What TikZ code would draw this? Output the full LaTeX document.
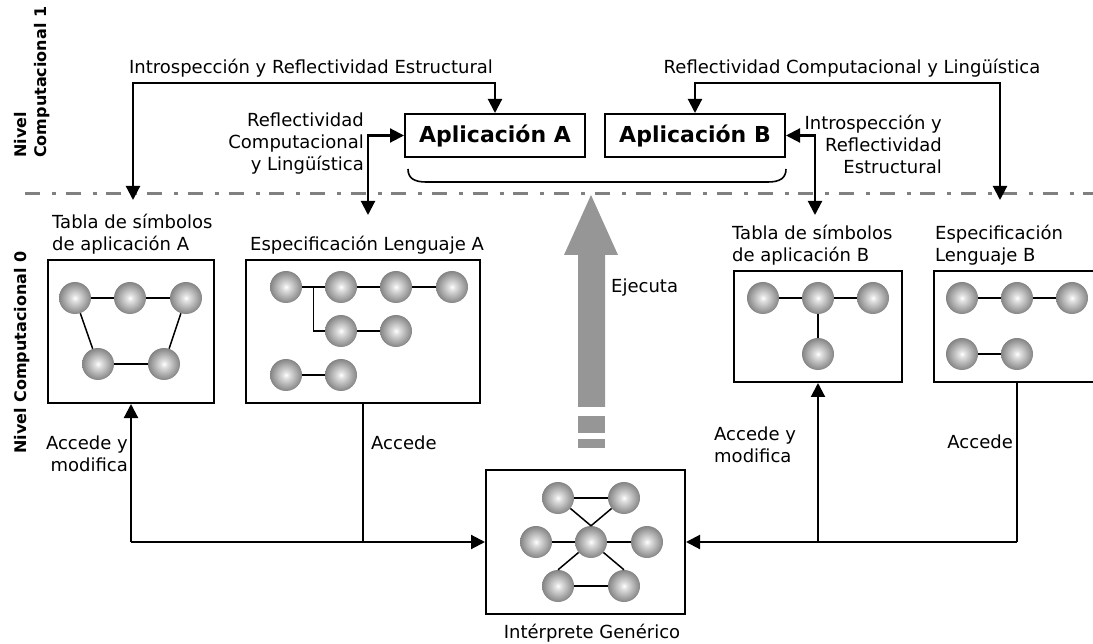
\documentclass[tikz,border=0pt]{standalone}
\usepackage{fontspec}
\setmainfont{DejaVu Sans}
\usetikzlibrary{arrows.meta,calc}
\pgfdeclareradialshading{sphereshade}{\pgfpoint{0bp}{0bp}}{color(0bp)=(white); color(5bp)=(black!12); color(26bp)=(black!50); color(50bp)=(black!72)}
\tikzset{
  boxnode/.style={draw, line width=2pt, inner sep=0pt},
  sph/.style={circle, minimum size=32pt, inner sep=0pt, shading=sphereshade},
  ln/.style={line width=1.5pt},
  con/.style={line width=2.1pt},
  arr/.style={con, -{Triangle[length=14pt,width=14pt]}},
  darr/.style={con, {Triangle[length=14pt,width=14pt]}-{Triangle[length=14pt,width=14pt]}},
  lbl/.style={inner sep=0pt},
  rot/.style={inner sep=0pt, rotate=90, anchor=base west, font=\fontsize{16}{19}\selectfont\bfseries},
}
\begin{document}
\begin{tikzpicture}[x=1pt,y=-1pt,font=\fontsize{18}{22}\selectfont]
\useasboundingbox (0,0) rectangle (1093,644);
\fill[white] (0,0) rectangle (1093,644);

% level labels
\node[rot] (nv1) at (26,158) {Nivel};
\node[rot] (cp1) at (46,158) {Computacional 1};
\node[rot] (nv0) at (26,454) {Nivel Computacional 0};

% dash-dot separator
\draw[black!50, line width=3.8pt, dash pattern=on 15pt off 12pt on 4pt off 9.7pt] (25,193.5) -- (1100,193.5);

% application boxes
\node[boxnode, minimum width=180pt, minimum height=43pt, font=\fontsize{22}{26}\selectfont\bfseries] (appA) at (495,135.5) {Aplicación A};
\node[boxnode, minimum width=180pt, minimum height=43pt, font=\fontsize{22}{26}\selectfont\bfseries] (appB) at (695,135.5) {Aplicación B};

% brace
\draw[line width=1.6pt] (408,169) .. controls (408,178) and (414,182) .. (426,182) -- (768,182) .. controls (780,182) and (786,178) .. (786,169);

% big grey arrow
\fill[black!41] (578,407) -- (578,255) -- (564,255) -- (591,195) -- (618,255) -- (605,255) -- (605,407) -- cycle;
\fill[black!41] (578,416) rectangle (605,433);
\fill[black!41] (578,439) rectangle (605,448);
\node[lbl, anchor=west] (ej) at (611,288) {Ejecuta};

% level 0 boxes
\node[boxnode, minimum width=166pt, minimum height=143pt] (TA) at (131,331.5) {};
\node[boxnode, minimum width=234pt, minimum height=143pt] (SA) at (363,331.5) {};
\node[boxnode, minimum width=168pt, minimum height=111pt] (TB) at (818,326.5) {};
\node[boxnode, minimum width=166pt, minimum height=111pt] (SB) at (1017,326.5) {};
\node[boxnode, minimum width=199pt, minimum height=144pt] (IG) at (585.5,542) {};

% labels of boxes
\node[lbl, anchor=west, align=left] (tTA) at (52,234) {Tabla de símbolos\\de aplicación A};
\node[lbl, anchor=west] (tSA) at (250,245) {Especificación Lenguaje A};
\node[lbl, anchor=west, align=left] (tTB) at (732,245) {Tabla de símbolos\\de aplicación B};
\node[lbl, anchor=west, align=left] (tSB) at (935,245) {Especificación\\Lenguaje B};
\node[lbl] (tIG) at (592,633) {Intérprete Genérico};

% top labels
\node[lbl] (l1) at (311,68) {Introspección y Reflectividad Estructural};
\node[lbl, anchor=east, align=right] (l2) at (364,144) {Reflectividad\\Computacional\\y Lingüística};
\node[lbl] (l3) at (852,68) {Reflectividad Computacional y Lingüística};
\node[lbl, anchor=east, align=right] (l4) at (942,144) {Introspección y\\Reflectividad\\Estructural};

% bottom labels
\node[lbl, anchor=east, align=right] (b1l) at (128,454) {Accede y\\modifica};
\node[lbl, anchor=west] (b2l) at (371,443) {Accede};
\node[lbl, anchor=west, align=left] (b3l) at (714,445) {Accede y\\modifica};
\node[lbl, anchor=east] (b4l) at (1013,442) {Accede};

% spheres TA
\node[sph] (a1) at (75,298) {};
\node[sph] (a2) at (130,298) {};
\node[sph] (a3) at (186,298) {};
\node[sph] (a4) at (98,364) {};
\node[sph] (a5) at (164,364) {};
\draw[ln] (a1) -- (a2); \draw[ln] (a2) -- (a3); \draw[ln] (a1) -- (a4); \draw[ln] (a3) -- (a5); \draw[ln] (a4) -- (a5);

% spheres SA
\node[sph] (s1) at (286,287) {};
\node[sph] (s2) at (341,287) {};
\node[sph] (s3) at (396,287) {};
\node[sph] (s4) at (452,287) {};
\node[sph] (s5) at (341,331) {};
\node[sph] (s6) at (396,331) {};
\node[sph] (s7) at (286,375) {};
\node[sph] (s8) at (341,375) {};
\draw[ln] (s1) -- (s2); \draw[ln] (s2) -- (s3); \draw[ln] (s3) -- (s4);
\draw[ln] ($(s1)!0.5!(s2)$) |- (s5);
\draw[ln] (s5) -- (s6); \draw[ln] (s7) -- (s8);

% spheres TB
\node[sph] (t1) at (763,298) {};
\node[sph] (t2) at (818,298) {};
\node[sph] (t3) at (873,298) {};
\node[sph] (t4) at (818,354) {};
\draw[ln] (t1) -- (t2); \draw[ln] (t2) -- (t3); \draw[ln] (t2) -- (t4);

% spheres SB
\node[sph] (u1) at (962,298) {};
\node[sph] (u2) at (1017,298) {};
\node[sph] (u3) at (1072,298) {};
\node[sph] (u4) at (962,354) {};
\node[sph] (u5) at (1017,354) {};
\draw[ln] (u1) -- (u2); \draw[ln] (u2) -- (u3); \draw[ln] (u4) -- (u5);

% spheres interpreter
\node[sph] (i1) at (558,498) {};
\node[sph] (i2) at (624,498) {};
\node[sph] (i3) at (536,542) {};
\node[sph] (i4) at (591,542) {};
\node[sph] (i5) at (647,542) {};
\node[sph] (i6) at (558,586) {};
\node[sph] (i7) at (624,586) {};
\draw[ln] (i1) -- (i2); \draw[ln] (i1) -- (i4.north); \draw[ln] (i2) -- (i4.north);
\draw[ln] (i3) -- (i4); \draw[ln] (i4) -- (i5);
\draw[ln] (i4) -- (i6.north); \draw[ln] (i4) -- (i7.north); \draw[ln] (i6) -- (i7);

% top connectors
\coordinate (cTA) at (133,83);
\coordinate (eTA) at (133,200);
\draw[darr] (appA.north) |- (cTA) -- (eTA);
\coordinate (eSA) at (368,215);
\draw[darr] (appA.west) -| (eSA);
\coordinate (cSB) at (1000,83);
\coordinate (eSB) at (1000,200);
\draw[darr] (appB.north) |- (cSB) -- (eSB);
\coordinate (eTB) at (815,215);
\draw[darr] (appB.east) -| (eTB);

% bottom connectors
\coordinate (jL) at (TA.south |- IG.west);
\coordinate (jSA) at (SA.south |- IG.west);
\coordinate (jTB) at (TB.south |- IG.east);
\coordinate (jR) at (SB.south |- IG.east);
\draw[arr] (jL) -- (TA.south);
\draw[arr] (jL) -- (IG.west);
\draw[con] (SA.south) -- (jSA);
\draw[arr] (jR) -- (IG.east);
\draw[con] (SB.south) -- (jR);
\draw[arr] (jTB) -- (TB.south);
\end{tikzpicture}
\end{document}
